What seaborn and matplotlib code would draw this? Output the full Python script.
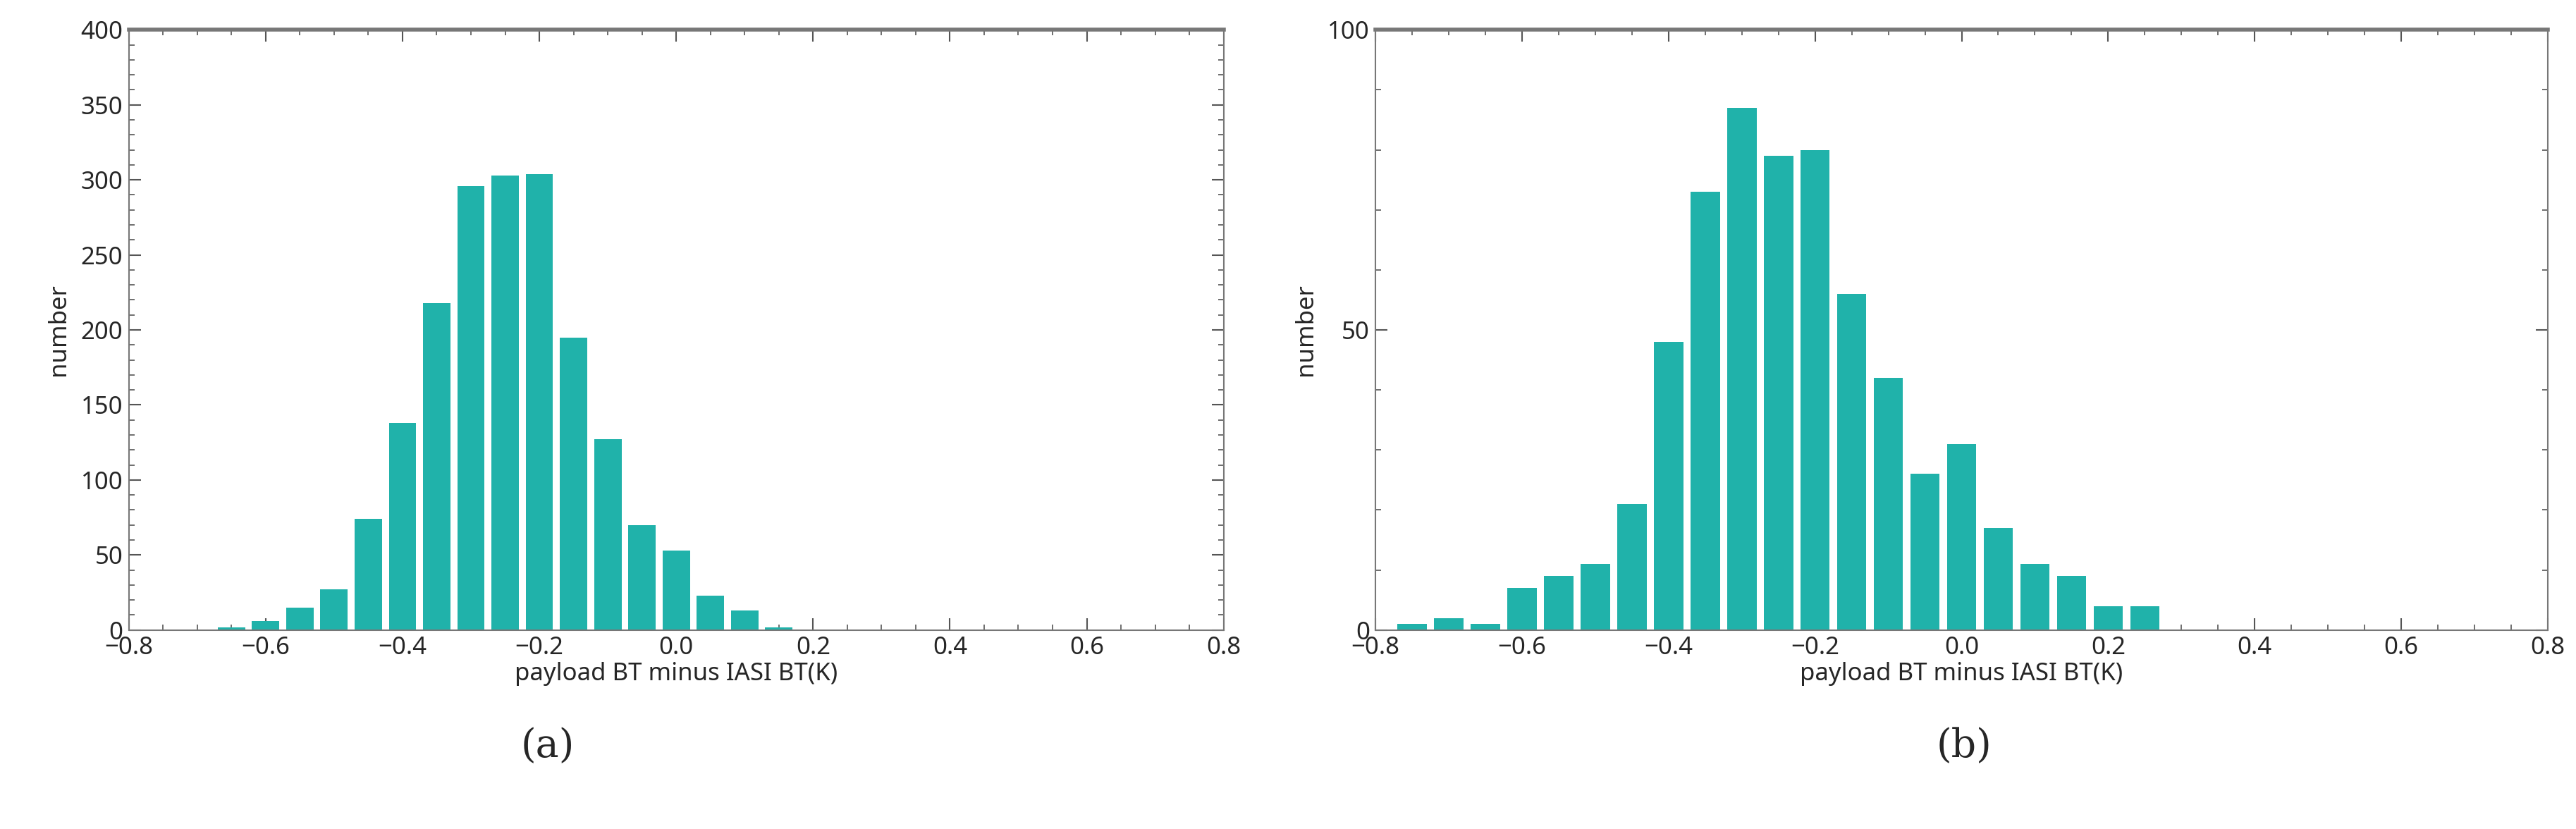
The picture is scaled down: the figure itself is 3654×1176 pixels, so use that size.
import matplotlib
matplotlib.use("Agg")
import matplotlib.pyplot as plt
import seaborn as sns
import numpy as np
from matplotlib.ticker import MultipleLocator

sns.set_style("ticks")
plt.rcParams['font.family'] = ['Noto Sans', 'DejaVu Sans']

centers_a = [-0.65, -0.60, -0.55, -0.50, -0.45, -0.40, -0.35, -0.30, -0.25, -0.20,
             -0.15, -0.10, -0.05, 0.00, 0.05, 0.10, 0.15]
counts_a = [2, 6, 15, 27, 74, 138, 218, 296, 303, 304, 195, 127, 70, 53, 23, 13, 2]

centers_b = [-0.75, -0.70, -0.65, -0.60, -0.55, -0.50, -0.45, -0.40, -0.35, -0.30,
             -0.25, -0.20, -0.15, -0.10, -0.05, 0.00, 0.05, 0.10, 0.15, 0.20, 0.25]
counts_b = [1, 2, 1, 7, 9, 11, 21, 48, 73, 87, 79, 80, 56, 42, 26, 31, 17, 11, 9, 4, 4]

xlabel = "payload BT minus IASI BT(K)"
ylabel = "number"
panel_labels = ["(a)", "(b)"]
color = "#20B2AA"

fig = plt.figure(figsize=(36.54, 11.76), dpi=100)
ax_a = fig.add_axes([0.050, 0.240, 0.425, 0.724])
ax_b = fig.add_axes([0.534, 0.240, 0.455, 0.724])

specs = [(ax_a, centers_a, counts_a, 400, 50), (ax_b, centers_b, counts_b, 100, 50)]
for ax, cx, cy, ymax, ymaj in specs:
    sns.barplot(x=np.array(cx), y=np.array(cy), native_scale=True, width=0.8,
                color=color, saturation=1, edgecolor="none", ax=ax)
    ax.set_xlim(-0.8, 0.8)
    ax.set_ylim(0, ymax)
    ax.xaxis.set_major_locator(MultipleLocator(0.2))
    ax.xaxis.set_minor_locator(MultipleLocator(0.05))
    ax.yaxis.set_major_locator(MultipleLocator(ymaj))
    ax.yaxis.set_minor_locator(MultipleLocator(10))
    ax.set_xticks(ax.get_xticks())
    ax.set_xticklabels([f"{v:.1f}".replace("-", "\u2212") for v in ax.get_xticks()])
    ax.set_xlim(-0.8, 0.8)
    ax.tick_params(which="both", direction="in", top=True, right=True, labelsize=25,
                   color="#555555", pad=6)
    ax.tick_params(which="major", length=12, width=1.5)
    ax.tick_params(which="minor", length=6, width=1.2)
    for s in ax.spines.values():
        s.set_color("#777777")
        s.set_linewidth(1.5)
    ax.spines["top"].set_linewidth(4)
    ax.set_xlabel(xlabel, fontsize=25, labelpad=2)
    ax.set_ylabel(ylabel, fontsize=25, labelpad=10)

fig.text(0.2125, 0.1, panel_labels[0], fontsize=40, ha="center", va="center",
         family="DejaVu Serif")
fig.text(0.7625, 0.1, panel_labels[1], fontsize=40, ha="center", va="center",
         family="DejaVu Serif")

fig.savefig("out.png", dpi=100)
